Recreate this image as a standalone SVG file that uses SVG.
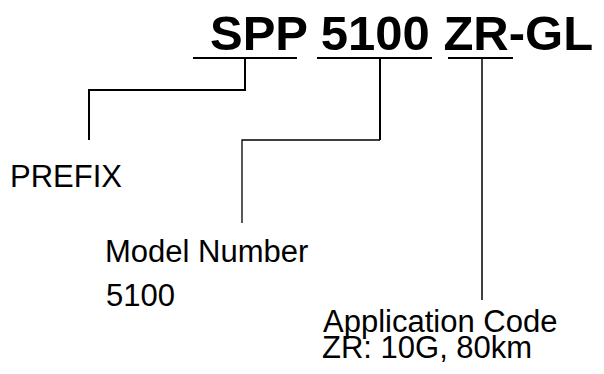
<svg xmlns="http://www.w3.org/2000/svg" width="604" height="374" viewBox="0 0 604 374">
<style>
.title{font-family:"Liberation Sans",Arial,sans-serif;font-weight:bold;font-size:49px;fill:#000}
.lbl{font-family:"Liberation Sans",Arial,sans-serif;font-size:31px;fill:#000}
.ul{stroke:#000;stroke-width:2;fill:none}
.c{stroke:#000;fill:none}
</style>
<rect width="604" height="374" fill="#fff"/>
<g id="title">
<text class="title" x="210" y="50">SPP 5100 ZR-GL</text>
<line class="ul" x1="193" y1="58" x2="297" y2="58"/>
<line class="ul" x1="317" y1="58" x2="432" y2="58"/>
<line class="ul" x1="448" y1="58" x2="513" y2="58"/>
</g>
<g id="connectors">
<polyline class="c" stroke-width="2" points="245,58 245,90 89,90 89,140"/>
<line class="c" stroke-width="2" x1="380" y1="58" x2="380" y2="140"/>
<polyline class="c" stroke-width="1.3" points="380,140 242,140 242,223"/>
<line class="c" stroke="#777" stroke-width="1.5" x1="482" y1="58" x2="482" y2="300"/>
</g>
<g id="prefix">
<text class="lbl" x="10" y="187">PREFIX</text>
</g>
<g id="model">
<text class="lbl" x="105" y="262">Model Number</text>
<text class="lbl" x="106" y="306">5100</text>
</g>
<g id="appcode">
<text class="lbl" x="323" y="332">Application Code</text>
<text class="lbl" x="322" y="358">ZR: 10G, 80km</text>
</g>
</svg>
